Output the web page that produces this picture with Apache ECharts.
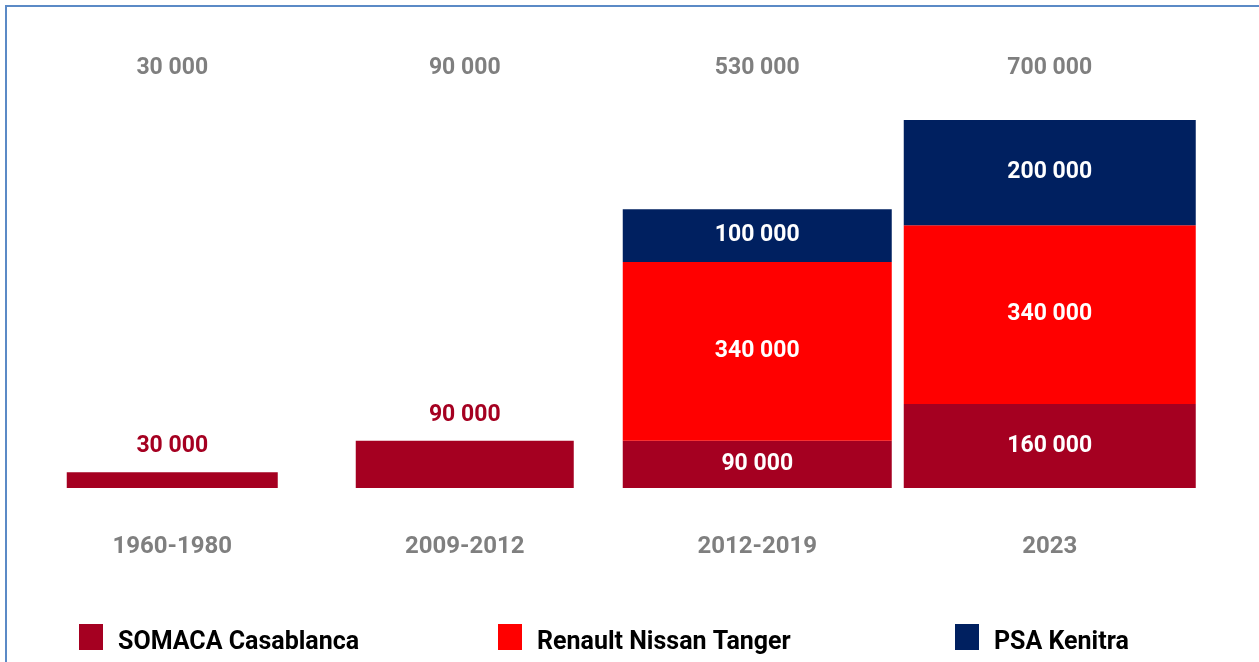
<!DOCTYPE html>
<html>
<head>
<meta charset="utf-8">
<script src="https://cdn.jsdelivr.net/npm/echarts@6/dist/echarts.min.js"></script>
<style>
  html, body { margin: 0; padding: 0; background: #fff; }
  #wrap { position: relative; width: 1259px; height: 662px; overflow: hidden; }
  #chart { position: absolute; left: 0; top: 0; width: 1259px; height: 662px; }
  #frame { position: absolute; left: 5px; top: 5px; width: 1400px; height: 800px;
           border-left: 2px solid #5b8ac6; border-top: 2px solid #5b8ac6; pointer-events: none; }
</style>
</head>
<body>
<div id="wrap"><div id="chart"></div><div id="frame"></div></div>
<script>
// ---- data ----
const categories = ['1960-1980', '2009-2012', '2012-2019', '2023'];
const seriesNames = ['SOMACA Casablanca', 'Renault Nissan Tanger', 'PSA Kenitra'];
const somaca  = [30000, 90000, 90000, 160000];
const renault = [0, 0, 340000, 340000];
const psa     = [0, 0, 100000, 200000];

// ---- style ----
const colors = ['#a50021', '#ff0000', '#002060'];
const barWidths = [211, 218, 269, 292];
const FONT = 'Roboto, "Open Sans", sans-serif';

const values = [somaca, renault, psa];
const totals = categories.map((_, i) => values.reduce((s, arr) => s + arr[i], 0));
const segCount = categories.map((_, i) => values.filter(arr => arr[i] > 0).length);
const fmt = n => String(n).replace(/\B(?=(\d{3})+(?!\d))/g, ' ');

function makeSeries(k) {
  const data = categories.map((_, i) => {
    let base = 0;
    for (let j = 0; j < k; j++) base += values[j][i];
    return [i, values[k][i], base];
  });
  return {
    name: seriesNames[k],
    type: 'custom',
    itemStyle: { color: colors[k] },
    encode: { x: 0, y: 1 },
    data: data,
    renderItem: function (params, api) {
      const i = api.value(0), v = api.value(1), base = api.value(2);
      if (!v) return null;
      const p0 = api.coord([i, base]);
      const p1 = api.coord([i, base + v]);
      const w = barWidths[i];
      const outside = segCount[i] === 1;
      return {
        type: 'rect',
        shape: { x: p0[0] - w / 2, y: p1[1], width: w, height: p0[1] - p1[1] },
        style: { fill: colors[k] },
        textContent: {
          style: {
            text: fmt(v),
            fill: outside ? '#a50021' : '#ffffff',
            fontFamily: FONT, fontWeight: 'bold', fontSize: 23
          }
        },
        textConfig: { position: outside ? 'top' : 'inside', distance: 14 }
      };
    }
  };
}

const legendLefts = [79, 498, 955];
const legends = seriesNames.map((name, k) => ({
  left: legendLefts[k],
  top: 624,
  padding: 0,
  orient: 'horizontal',
  data: [{ name: name, icon: 'rect', itemStyle: { color: colors[k] } }],
  itemWidth: 24,
  itemHeight: 26,
  selectedMode: false,
  formatter: '{t|{name}}',
  textStyle: {
    color: '#000', fontFamily: FONT, fontWeight: 'bold', fontSize: 25,
    rich: { t: { color: '#000', fontFamily: FONT, fontWeight: 'bold', fontSize: 25, padding: [12, 0, 0, 10] } }
  }
}));

const chart = echarts.init(document.getElementById('chart'), null, { renderer: 'canvas' });
chart.setOption({
  animation: false,
  backgroundColor: '#ffffff',
  grid: { left: 26, right: 63, top: 120, bottom: 174 },
  legend: legends,
  xAxis: [
    {
      type: 'category',
      data: categories,
      position: 'bottom',
      axisLine: { show: false }, axisTick: { show: false }, splitLine: { show: false },
      axisLabel: { color: '#7f7f7f', fontFamily: FONT, fontWeight: 'bold', fontSize: 24, margin: 47 }
    },
    {
      type: 'category',
      data: totals.map(fmt),
      position: 'top',
      axisLine: { show: false }, axisTick: { show: false }, splitLine: { show: false },
      axisLabel: { color: '#7f7f7f', fontFamily: FONT, fontWeight: 'bold', fontSize: 23, margin: 40 }
    }
  ],
  yAxis: { type: 'value', min: 0, max: 700000, show: false },
  series: [0, 1, 2].map(makeSeries)
});
</script>
</body>
</html>
